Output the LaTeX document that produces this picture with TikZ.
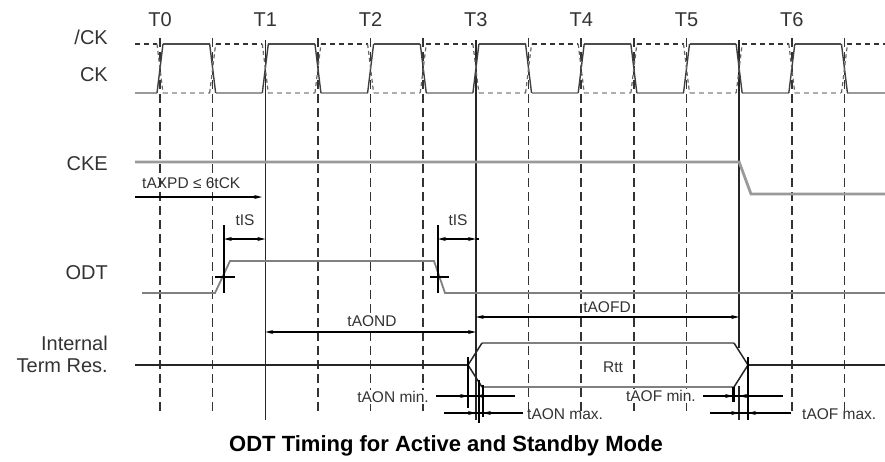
\documentclass[tikz,border=0pt]{standalone}
\usepackage{fontspec}
\setmainfont{Liberation Sans}
\usetikzlibrary{arrows.meta}
\definecolor{dk}{HTML}{333333}
\definecolor{lg}{HTML}{9A9A9A}
\definecolor{md}{HTML}{808080}
\tikzset{
  lbl/.style={font=\fontsize{20}{24}\selectfont, text=dk, inner sep=0pt},
  sml/.style={font=\fontsize{15.5}{18}\selectfont, text=dk, inner sep=1pt, fill=white},
  gridline/.style={draw=dk, line width=1.6pt, dash pattern=on 9pt off 5pt},
  vline/.style={draw=black!85, line width=1.6pt},
  hisolid/.style={draw=black!70, line width=1.8pt},
  losolid/.style={draw=lg, line width=2.2pt},
  hidash/.style={draw=dk, line width=1.4pt, dash pattern=on 5pt off 4pt},
  lodash/.style={draw=lg!80, line width=2.2pt, dash pattern=on 5pt off 4pt},
  trsolid/.style={draw=black!75, line width=1.4pt},
  trdash/.style={draw=black!60, line width=1.2pt, dash pattern=on 4pt off 3pt},
  wave/.style={draw=md, line width=1.8pt},
  ckeline/.style={draw=lg, line width=2.8pt},
  mk/.style={draw=black, line width=1.4pt},
  ah/.style={-{Stealth[length=8pt,width=4pt]}, draw=black, line width=1.2pt},
  dimline/.style={{Stealth[length=8pt,width=4pt]}-{Stealth[length=8pt,width=4pt]}, draw=black, line width=1.2pt},
}
\begin{document}
\begin{tikzpicture}[x=1pt,y=-1pt]
\useasboundingbox (0,0) rectangle (885,461);
% reference columns
\coordinate (T1) at ({160+52.65*2},0);
\coordinate (T3) at ({160+52.65*6},0);
\coordinate (E11) at ({160+52.65*11},0);
% dashed clock-edge grid
\foreach \k in {0,1,3,4,5,7,8,9,10,12,13}
  \draw[gridline] ({160+52.65*\k},38) -- ({160+52.65*\k},413);
% solid reference lines
\draw[vline] (T1 |- 0,40) -- (T1 |- 0,420);
\draw[vline] (T3 |- 0,40) -- (T3 |- 0,420);
\draw[vline] (E11 |- 0,40) -- (E11 |- 0,348);
\draw[vline] (E11 |- 0,386) -- (E11 |- 0,420);
% clock: high intervals
\foreach \i in {0,...,6} {
  \draw[hisolid] ({160+52.65*2*\i+3},44) -- ({160+52.65*(2*\i+1)-3},44);
  \draw[lodash] ({160+52.65*2*\i+3},93) -- ({160+52.65*(2*\i+1)-3},93);
}
% clock: low intervals
\foreach \i in {0,...,5} {
  \draw[losolid] ({160+52.65*(2*\i+1)+3},93) -- ({160+52.65*(2*\i+2)-3},93);
  \draw[hidash] ({160+52.65*(2*\i+1)+3},44) -- ({160+52.65*(2*\i+2)-3},44);
}
\draw[losolid] (135,93) -- (157,93);
\draw[hidash] (135,44) -- (157,44);
\draw[losolid] ({160+52.65*13+3},93) -- (885,93);
\draw[hidash] ({160+52.65*13+3},44) -- (885,44);
% clock transitions
\foreach \k in {0,2,...,12} {
  \draw[trsolid] ({160+52.65*\k-3},93) -- ({160+52.65*\k+3},44);
  \draw[trdash] ({160+52.65*\k-3},44) -- ({160+52.65*\k+3},93);
}
\foreach \k in {1,3,...,13} {
  \draw[trsolid] ({160+52.65*\k-3},44) -- ({160+52.65*\k+3},93);
  \draw[trdash] ({160+52.65*\k-3},93) -- ({160+52.65*\k+3},44);
}
% T labels
\foreach \k/\t in {0/T0,2/T1,4/T2,6/T3,8/T4,10/T5,12/T6}
  \node[lbl] (lab\t) at ({160+52.65*\k},20) {\t};
% signal names
\node[lbl, anchor=east] (nCKb) at (108,37) {/CK};
\node[lbl, anchor=east] (nCK) at (108,75) {CK};
\node[lbl, anchor=east] (nCKE) at (108,164) {CKE};
\node[lbl, anchor=east] (nODT) at (108,273) {ODT};
\node[lbl, anchor=east] (nInt) at (108,343) {Internal};
\node[lbl, anchor=east] (nTerm) at (108,366) {Term Res.};
% CKE
\draw[ckeline] (135,162) -- (E11 |- 0,162) -- (751,194) -- (885,194);
% tAXPD
\coordinate (axs) at (135,197);
\draw[ah] (axs) -- (262,197);
\node[sml, anchor=west, fill=none] (tAXPD) at (141,183) {tAXPD ≤ 6tCK};
% ODT
\draw[wave] (142,293) -- (215,293) -- (230,261) -- (434,261) -- (445,293) -- (885,293);
\draw[mk] (224,225) -- (224,293);
\draw[mk] (215,277) -- (235,277);
\draw[mk] (438,225) -- (438,293);
\draw[mk] (430,277) -- (449,277);
% tIS
\draw[dimline] (224,239) -- (T1 |- 0,239);
\node[sml, fill=none] (tIS1) at (245,220) {tIS};
\draw[mk, line width=1.2pt] (T3 |- 0,239) -- (479,239);
\draw[dimline] (438,239) -- (T3 |- 0,239);
\node[sml, fill=none] (tIS2) at (458,220) {tIS};
% tAOND / tAOFD
\draw[dimline] (T1 |- 0,332) -- (T3 |- 0,332);
\node[sml] (tAOND) at (372,321) {tAOND};
\draw[dimline] (T3 |- 0,317) -- (E11 |- 0,317);
\node[sml, fill=none] (tAOFD) at (607,307) {tAOFD};
% Internal term res
\draw[draw=black!85, line width=1.5pt] (135,365) -- (468,365);
\draw[draw=black!85, line width=1.5pt] (748,365) -- (885,365);
\draw[draw=md, line width=1.6pt] (482,343) -- (734,343);
\draw[draw=md, line width=1.6pt] (482,387) -- (734,387);
\draw[draw=black!85, line width=1.5pt] (482,343) -- (468,365) -- (482,387);
\draw[draw=black!85, line width=1.5pt] (734,343) -- (748,365) -- (734,387);
\node[sml, fill=none] (Rtt) at (613,367) {Rtt};
% tAON markers
\draw[mk] (468,357) -- (468,408);
\draw[mk] (479,380) -- (479,423);
\draw[mk] (483,385) -- (483,417);
\draw[mk, line width=1.2pt] (436,396) -- (515,396);
\draw[ah] (436,396) -- (468,396);
\draw[ah] (515,396) -- (T3 |- 0,396);
\draw[mk, line width=1.2pt] (444,413) -- (523,413);
\draw[ah] (444,413) -- (T3 |- 0,413);
\draw[ah] (523,413) -- (483,413);
\node[sml, anchor=east] (tAONmin) at (430,397) {tAON min.};
\node[sml, anchor=west, fill=none] (tAONmax) at (526,414) {tAON max.};
% tAOF markers
\draw[mk, line width=2.6pt] (733.5,387) -- (733.5,402);
\draw[mk] (748,357) -- (748,420);
\draw[mk, line width=1.2pt] (703,396) -- (783,396);
\draw[ah] (703,396) -- (733,396);
\draw[ah] (783,396) -- (E11 |- 0,396);
\draw[mk, line width=1.2pt] (710,413) -- (791,413);
\draw[ah] (710,413) -- (E11 |- 0,413);
\draw[ah] (791,413) -- (748,413);
\node[sml, anchor=east] (tAOFmin) at (697,396) {tAOF min.};
\node[sml, anchor=west, fill=none] (tAOFmax) at (801,414) {tAOF max.};
% title
\node[font=\fontsize{22}{26}\selectfont\bfseries, inner sep=0pt] (title) at (446,446) {ODT Timing for Active and Standby Mode};
\end{tikzpicture}
\end{document}
